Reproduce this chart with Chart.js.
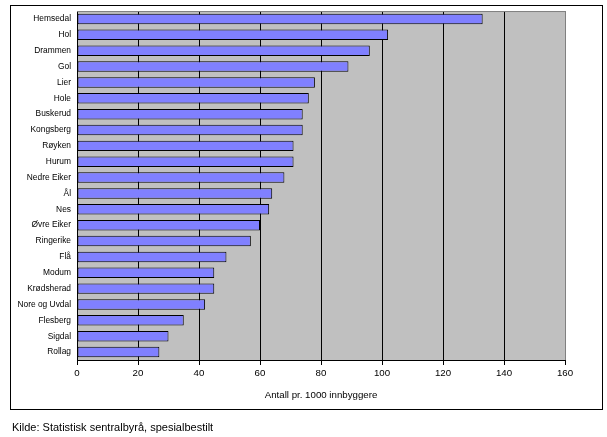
<!DOCTYPE html>
<html>
<head>
<meta charset="utf-8">
<script src="https://cdn.jsdelivr.net/npm/chart.js@4/dist/chart.umd.min.js"></script>
<style>
  html, body { margin: 0; padding: 0; background: #fff; }
  #wrap { position: relative; width: 607px; height: 437px; overflow: hidden; }
  #frame { position: absolute; left: 10px; top: 5px; width: 593px; height: 405px; box-sizing: border-box; border: 1px solid #000; }
  #c { position: absolute; left: 0; top: 0; }
  #caption { position: absolute; left: 12px; top: 421px; font-family: "Liberation Sans", Arial, sans-serif; font-size: 11px; line-height: 12px; color: #000; white-space: nowrap; }
</style>
</head>
<body>
<div id="wrap">
  <div id="frame"></div>
  <canvas id="c" width="607" height="437"></canvas>
  <div id="caption">Kilde: Statistisk sentralbyrå, spesialbestilt</div>
</div>
<script>
const categories = ["Hemsedal", "Hol", "Drammen", "Gol", "Lier", "Hole", "Buskerud", "Kongsberg", "Røyken", "Hurum", "Nedre Eiker", "Ål", "Nes", "Øvre Eiker", "Ringerike", "Flå", "Modum", "Krødsherad", "Nore og Uvdal", "Flesberg", "Sigdal", "Rollag"];
const values = [133, 102, 96, 89, 78, 76, 74, 74, 71, 71, 68, 64, 63, 60, 57, 49, 45, 45, 42, 35, 30, 27];
const xTicks = [0, 20, 40, 60, 80, 100, 120, 140, 160];
const xTitle = "Antall pr. 1000 innbyggere";

const FONT = "'Liberation Sans', Arial, sans-serif";

const plotBg = {
  id: 'plotBg',
  beforeDraw(chart) {
    const { ctx, chartArea: a } = chart;
    ctx.save();
    ctx.fillStyle = '#C0C0C0';
    ctx.fillRect(a.left, a.top, a.right - a.left, a.bottom - a.top);
    ctx.restore();
  },
  beforeDatasetsDraw(chart) {
    const { ctx, chartArea: a } = chart;
    ctx.save();
    ctx.strokeStyle = '#808080';
    ctx.lineWidth = 1;
    ctx.beginPath();
    ctx.moveTo(a.left, a.top + 0.5);
    ctx.lineTo(Math.round(a.right) + 0.5, a.top + 0.5);
    ctx.lineTo(Math.round(a.right) + 0.5, a.bottom);
    ctx.stroke();
    ctx.restore();
  }
};

new Chart(document.getElementById('c'), {
  type: 'bar',
  data: {
    labels: categories,
    datasets: [{
      data: values,
      backgroundColor: '#8080FF',
      borderColor: '#000000',
      borderWidth: 1,
      borderSkipped: false,
      barPercentage: 0.66,
      categoryPercentage: 1.0
    }]
  },
  options: {
    indexAxis: 'y',
    responsive: false,
    animation: false,
    devicePixelRatio: 1,
    layout: { padding: { top: 10, right: 42, left: 0, bottom: 32 } },
    plugins: { legend: { display: false }, tooltip: { enabled: false } },
    scales: {
      x: {
        min: xTicks[0],
        max: xTicks[xTicks.length - 1],
        afterBuildTicks(scale) { scale.ticks = xTicks.map(v => ({ value: v })); },
        afterFit(scale) { scale.height = 45; },
        grid: {
          color: (c) => (c.tick && c.tick.value === 160) ? '#808080' : '#000000',
          tickColor: '#000000',
          lineWidth: 1,
          tickLength: 5,
          drawOnChartArea: true
        },
        border: { display: true, color: '#000000', width: 1 },
        ticks: {
          color: '#000000',
          padding: 3,
          maxRotation: 0,
          font: { family: FONT, size: 9.7 }
        },
        title: {
          display: true,
          text: xTitle,
          color: '#000000',
          padding: { top: 9, bottom: 4 },
          font: { family: FONT, size: 9.7 }
        }
      },
      y: {
        afterFit(scale) { scale.width = 77; },
        grid: { display: false, drawTicks: false, tickLength: 0 },
        border: { display: true, color: '#000000', width: 1 },
        ticks: {
          color: '#000000',
          padding: 6,
          autoSkip: false,
          font: { family: FONT, size: 8.4 }
        }
      }
    }
  },
  plugins: [plotBg]
});
</script>
</body>
</html>
